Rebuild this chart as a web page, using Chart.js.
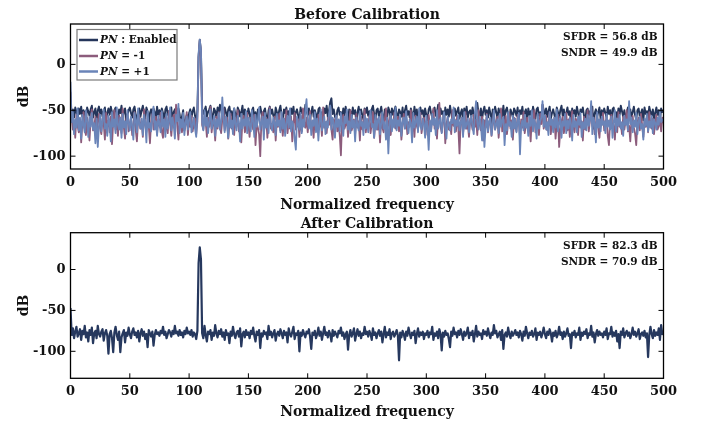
<!DOCTYPE html>
<html>
<head>
<meta charset="utf-8">
<script src="https://cdn.jsdelivr.net/npm/chart.js@4.4.1/dist/chart.umd.min.js"></script>
<style>
  html, body { margin: 0; padding: 0; background: #ffffff; }
  #wrap { position: relative; width: 706px; height: 423px; overflow: hidden; }
  canvas { position: absolute; left: 0; }
  #c1 { top: 0; }
  #c2 { top: 215px; }
</style>
</head>
<body>
<div id="wrap">
  <canvas id="c1" width="706" height="215" style="width:706px;height:215px"></canvas>
  <canvas id="c2" width="706" height="208" style="width:706px;height:208px"></canvas>
</div>
<script>
// ---------------- DATA ----------------
// frequency bins (normalized frequency 0..500)
const freqBins = Array.from({ length: 501 }, (_, i) => i);

const xTickValues = [0, 50, 100, 150, 200, 250, 300, 350, 400, 450, 500];
const yTickValues = [-100, -50, 0];

const seriesNames = ['PN : Enabled', 'PN = -1', 'PN = +1'];

// Before calibration, PN enabled (dB)
const beforeEnabled = [
  -42,-55,-49,-58,-47,-52,-60,-48,-54,-46,-57,-50,-53,-61,-47,-51,-56,-49,-45,-58,-52,-48,-63,-50,-46,
  -54,-49,-57,-51,-47,-60,-53,-48,-55,-46,-52,-59,-50,-47,-56,-62,-49,-53,-45,-58,-51,-48,-64,-55,-50,
  -47,-53,-58,-49,-46,-55,-61,-52,-48,-57,-50,-45,-54,-59,-47,-51,-66,-53,-49,-56,-48,-52,-60,-46,-55,
  -50,-57,-48,-53,-62,-49,-46,-55,-51,-58,-47,-64,-52,-49,-56,-60,-48,-54,-67,-57,-50,-72,-61,-55,-68,
  -53,-49,-58,-51,-47,-56,-62,-50,8,27,14,-48,-54,-50,-46,-57,-52,-49,-45,-55,-60,-48,-51,-58,-47,
  -53,-44,-50,-56,-61,-47,-52,-58,-49,-46,-55,-51,-63,-48,-54,-59,-47,-50,-57,-52,-45,-60,-49,-53,-56,
  -48,-54,-61,-50,-47,-58,-52,-65,-49,-55,-46,-53,-59,-51,-48,-57,-62,-50,-46,-54,-49,-56,-60,-47,-52,
  -58,-50,-45,-55,-63,-49,-53,-47,-57,-51,-60,-48,-54,-46,-59,-52,-49,-56,-61,-47,-53,-50,-58,-44,-51,
  -55,-48,-60,-52,-46,-57,-50,-54,-63,-49,-47,-56,-52,-59,-48,-53,-45,-58,-50,-41,-37,-54,-49,-57,-61,
  -50,-47,-55,-52,-60,-48,-56,-46,-53,-62,-49,-51,-58,-47,-54,-50,-64,-52,-46,-57,-49,-55,-60,-48,-53,
  -47,-56,-51,-59,-49,-45,-54,-61,-50,-48,-57,-52,-46,-55,-63,-49,-53,-58,-47,-51,-60,-48,-55,-50,-46,
  -54,-59,-49,-52,-57,-47,-62,-50,-45,-55,-51,-58,-48,-53,-60,-46,-56,-49,-65,-52,-47,-54,-50,-58,-48,
  -55,-61,-49,-46,-53,-58,-50,-47,-56,-52,-44,-59,-48,-54,-51,-62,-47,-55,-49,-57,-45,-53,-60,-50,-48,
  -56,-51,-47,-59,-53,-49,-62,-48,-55,-46,-58,-52,-50,-57,-47,-54,-61,-49,-42,-53,-56,-48,-60,-51,-46,
  -55,-50,-58,-47,-53,-64,-49,-56,-46,-52,-59,-48,-54,-51,-57,-45,-60,-50,-47,-55,-62,-49,-53,-58,-48,
  -51,-56,-47,-60,-50,-54,-46,-58,-52,-49,-63,-48,-55,-51,-57,-46,-53,-59,-49,-47,-56,-52,-61,-44,-50,
  -54,-48,-57,-51,-46,-59,-53,-49,-55,-62,-47,-52,-58,-50,-45,-56,-49,-60,-53,-47,-55,-51,-64,-48,-54,
  -50,-57,-46,-53,-59,-49,-52,-47,-56,-61,-50,-48,-55,-51,-58,-46,-70,-53,-49,-57,-52,-47,-60,-50,-55,
  -48,-53,-58,-46,-54,-50,-62,-49,-47,-56,-52,-59,-48,-55,-45,-51,-57,-50,-63,-53,-47,-54,-49,-58,-52,
  -46,-55,-60,-50,-48,-57,-53,-49,-61,-47,-54,-51,-58,-46,-52,-56,-49,-59,-53,-47,-55,-50,-62,-48,-52,
  -50
];

// Before calibration, PN = -1 (dB)
const beforeMinus = [
  -30,-58,-71,-62,-80,-55,-67,-74,-60,-85,-64,-52,-70,-77,-58,-66,-83,-61,-49,-72,-68,-57,-79,-63,-54,
  -70,-76,-59,-65,-82,-53,-68,-61,-74,-57,-87,-63,-50,-71,-66,-78,-56,-62,-75,-48,-69,-81,-60,-55,-73,
  -64,-58,-77,-67,-52,-72,-84,-61,-56,-70,-63,-79,-49,-66,-74,-59,-68,-86,-62,-54,-71,-65,-57,-76,-60,
  -67,-53,-73,-80,-62,-58,-69,-75,-51,-64,-78,-60,-55,-71,-44,-66,-82,-59,-63,-74,-57,-70,-65,-52,-77,
  -61,-68,-56,-73,-64,-59,-76,-62,8,26,13,-66,-71,-55,-63,-79,-58,-68,-46,-74,-61,-65,-83,-57,-70,
  -52,-67,-75,-60,-48,-72,-64,-58,-81,-66,-54,-70,-62,-77,-59,-68,-50,-73,-65,-85,-61,-56,-74,-69,-53,
  -66,-79,-58,-63,-71,-55,-88,-64,-69,-76,-100,-60,-52,-73,-67,-58,-80,-62,-47,-70,-65,-74,-57,-83,-61,
  -68,-54,-72,-63,-78,-59,-66,-50,-75,-62,-70,-57,-84,-64,-53,-71,-67,-60,-79,-56,-73,-48,-65,-69,-58,
  -74,-62,-51,-70,-66,-80,-57,-64,-72,-55,-68,-61,-78,-47,-69,-63,-75,-58,-66,-52,-71,-82,-60,-67,-56,
  -73,-64,-77,-99,-61,-55,-70,-66,-58,-79,-63,-50,-72,-68,-60,-76,-54,-69,-62,-83,-57,-71,-65,-49,-74,
  -61,-68,-56,-75,-64,-52,-80,-66,-59,-71,-63,-85,-55,-69,-74,-60,-48,-72,-65,-58,-77,-62,-67,-53,-70,
  -64,-57,-73,-61,-82,-66,-54,-70,-59,-76,-63,-68,-50,-74,-62,-79,-56,-67,-71,-60,-53,-75,-65,-58,-69,
  -62,-77,-55,-66,-72,-59,-48,-70,-64,-81,-57,-42,-68,-74,-61,-53,-86,-65,-58,-71,-63,-76,-50,-67,-60,
  -73,-56,-69,-97,-62,-58,-75,-64,-52,-70,-66,-79,-59,-63,-71,-55,-68,-60,-77,-50,-65,-72,-57,-83,-61,
  -69,-54,-74,-63,-59,-78,-66,-51,-71,-62,-57,-80,-65,-48,-73,-60,-68,-56,-76,-64,-53,-70,-61,-82,-58,
  -67,-73,-55,-63,-79,-60,-69,-52,-75,-64,-58,-71,-66,-84,-57,-62,-50,-74,-68,-59,-77,-54,-65,-44,-70,
  -63,-56,-72,-67,-52,-76,-61,-69,-58,-81,-64,-55,-90,-70,-62,-57,-75,-66,-53,-72,-60,-79,-65,-51,-68,
  -74,-59,-63,-77,-56,-69,-62,-83,-57,-71,-65,-50,-73,-61,-44,-67,-58,-76,-64,-54,-70,-80,-60,-66,-53,
  -72,-63,-58,-78,-88,-61,-55,-70,-66,-82,-59,-74,-52,-68,-64,-76,-57,-71,-62,-50,-73,-67,-84,-60,-56,
  -69,-75,-88,-63,-58,-72,-54,-66,-79,-61,-68,-57,-74,-52,-65,-70,-59,-76,-63,-55,-71,-67,-60,-73,-58,
  -64
];

// Before calibration, PN = +1 (dB)
const beforePlus = [
  -19,-63,-52,-76,-60,-69,-48,-72,-58,-81,-55,-66,-74,-50,-62,-79,-57,-68,-53,-71,-64,-86,-59,-90,-67,
  -55,-73,-61,-49,-70,-65,-78,-56,-63,-84,-52,-68,-60,-75,-47,-66,-71,-58,-80,-54,-69,-62,-76,-50,-64,
  -72,-57,-67,-82,-53,-61,-74,-48,-66,-70,-59,-77,-55,-63,-85,-51,-69,-64,-73,-57,-46,-71,-62,-78,-56,
  -65,-74,-51,-68,-60,-79,-54,-70,-63,-47,-72,-58,-66,-81,-55,-62,-43,-75,-60,-69,-53,-77,-64,-57,-71,
  -60,-52,-74,-66,-58,-70,-79,-55,12,27,15,-63,-72,-50,-67,-58,-75,-61,-49,-70,-64,-56,-78,-60,-68,
  -53,-71,-62,-36,-59,-74,-57,-66,-80,-52,-69,-61,-76,-48,-65,-72,-56,-63,-84,-54,-70,-60,-67,-51,-75,
  -58,-66,-73,-50,-62,-79,-55,-68,-61,-47,-71,-64,-57,-82,-53,-69,-60,-75,-49,-66,-72,-58,-63,-77,-54,
  -67,-61,-74,-52,-70,-59,-78,-64,-56,-69,-48,-73,-62,-66,-81,-93,-57,-65,-71,-53,-75,-60,-68,-50,-38,
  -64,-70,-55,-77,-61,-67,-52,-74,-59,-83,-63,-49,-72,-66,-57,-76,-62,-69,-54,-45,-71,-58,-65,-80,-56,
  -68,-60,-73,-53,-66,-78,-57,-64,-49,-71,-62,-75,-55,-69,-61,-84,-58,-66,-72,-51,-67,-63,-77,-56,-70,
  -59,-74,-62,-50,-68,-65,-80,-55,-71,-61,-57,-76,-64,-52,-70,-63,-82,-58,-97,-66,-54,-73,-60,-69,-47,
  -72,-61,-67,-55,-78,-63,-58,-70,-51,-66,-75,-60,-64,-85,-53,-69,-62,-57,-74,-48,-67,-71,-59,-65,-80,
  -56,-68,-93,-61,-73,-54,-66,-59,-77,-50,-70,-63,-58,-75,-62,-52,-69,-81,-57,-66,-72,-60,-64,-47,-74,
  -61,-67,-55,-72,-63,-58,-79,-52,-70,-65,-59,-74,-62,-56,-68,-76,-53,-40,-64,-71,-57,-66,-83,-60,-90,
  -69,-55,-73,-62,-58,-77,-64,-50,-71,-66,-60,-75,-54,-68,-61,-57,-88,-65,-72,-52,-67,-63,-79,-56,-70,
  -59,-74,-62,-53,-98,-66,-61,-72,-55,-69,-64,-78,-57,-67,-50,-73,-60,-65,-81,-54,-70,-62,-58,-40,-68,
  -56,-71,-63,-77,-52,-66,-60,-74,-58,-69,-49,-73,-64,-57,-80,-62,-67,-54,-75,-61,-70,-58,-65,-83,-55,
  -68,-62,-74,-57,-66,-53,-79,-63,-70,-59,-72,-55,-67,-61,-40,-76,-58,-64,-85,-52,-69,-60,-73,-57,-66,
  -62,-75,-54,-68,-61,-71,-57,-80,-64,-50,-73,-59,-67,-55,-70,-63,-78,-56,-66,-60,-72,-40,-65,-58,-74,
  -61,-68,-53,-76,-63,-57,-70,-65,-82,-59,-67,-54,-73,-62,-69,-56,-75,-60,-64,-71,-58,-66,-52,-63,-60,
  -62
];

// After calibration (dB)
const afterCal = [
  -47,-80,-72,-84,-76,-70,-82,-78,-73,-86,-75,-79,-69,-83,-77,-88,-74,-80,-71,-90,-78,-75,-84,-69,-79,
  -82,-76,-73,-87,-78,-74,-81,-103,-79,-75,-84,-101,-77,-70,-80,-86,-76,-101,-83,-78,-74,-89,-77,-81,-71,
  -79,-84,-76,-72,-80,-77,-83,-75,-88,-78,-73,-81,-76,-85,-79,-95,-74,-78,-82,-76,-93,-80,-74,-79,-77,
  -81,-75,-78,-70,-80,-76,-84,-79,-74,-77,-82,-75,-79,-69,-78,-76,-81,-74,-80,-77,-83,-75,-79,-71,-78,
  -76,-80,-74,-82,-77,-79,-85,-75,8,27,12,-78,-84,-69,-80,-88,-76,-79,-74,-86,-77,-81,-68,-78,-83,
  -75,-79,-73,-82,-77,-86,-74,-80,-78,-90,-76,-81,-70,-79,-84,-77,-75,-82,-72,-94,-79,-76,-83,-74,-80,
  -77,-84,-75,-79,-71,-81,-88,-76,-80,-74,-96,-78,-82,-75,-79,-77,-85,-69,-80,-76,-83,-78,-74,-87,-79,
  -76,-81,-73,-78,-84,-75,-80,-77,-89,-72,-79,-82,-76,-70,-85,-78,-80,-75,-100,-77,-81,-74,-79,-83,-76,
  -78,-73,-82,-97,-77,-80,-75,-84,-79,-71,-81,-76,-86,-78,-70,-80,-77,-83,-75,-79,-88,-74,-81,-76,-79,
  -83,-75,-78,-71,-81,-77,-85,-79,-76,-98,-80,-74,-82,-78,-72,-87,-79,-73,-81,-76,-84,-78,-80,-70,-79,
  -76,-82,-75,-79,-86,-72,-80,-77,-84,-78,-74,-81,-76,-89,-79,-70,-83,-77,-80,-73,-85,-78,-76,-82,-79,
  -74,-80,-111,-77,-83,-75,-79,-86,-76,-81,-71,-78,-84,-77,-80,-75,-90,-79,-72,-82,-77,-80,-76,-85,-78,
  -80,-75,-83,-77,-79,-70,-86,-78,-81,-76,-84,-73,-79,-99,-77,-82,-75,-80,-78,-85,-95,-76,-81,-71,-79,
  -77,-83,-75,-80,-73,-79,-86,-76,-81,-78,-71,-84,-77,-80,-75,-88,-79,-69,-82,-76,-80,-78,-85,-74,-79,
  -76,-81,-72,-79,-84,-77,-80,-68,-78,-75,-83,-79,-76,-86,-74,-97,-80,-77,-82,-71,-79,-84,-76,-81,-78,
  -74,-80,-77,-83,-75,-79,-87,-76,-81,-70,-78,-84,-77,-80,-75,-82,-79,-72,-86,-77,-80,-76,-83,-78,-71,
  -79,-84,-76,-80,-73,-78,-88,-77,-81,-75,-83,-79,-70,-80,-77,-85,-76,-82,-78,-72,-81,-79,-96,-77,-80,
  -75,-83,-78,-80,-71,-86,-77,-81,-76,-79,-73,-84,-78,-80,-69,-82,-77,-89,-79,-74,-81,-76,-80,-78,-83,
  -76,-80,-72,-85,-78,-79,-70,-82,-77,-81,-75,-88,-79,-96,-76,-80,-72,-83,-78,-75,-81,-77,-84,-79,-71,
  -80,-76,-82,-78,-73,-85,-79,-77,-81,-75,-83,-78,-107,-80,-70,-79,-84,-74,-81,-77,-80,-72,-86,-68,-79,
  -77
];

const beforeMetrics = ['SFDR = 56.8 dB', 'SNDR = 49.9 dB'];
const afterMetrics  = ['SFDR = 82.3 dB', 'SNDR = 70.9 dB'];

// ---------------- STYLE ----------------
const COL_ENABLED = 'rgb(36,53,90)';
const COL_MINUS   = 'rgb(140,92,124)';
const COL_PLUS    = 'rgb(106,132,184)';
const COL_AFTER   = 'rgb(38,56,94)';
const FONT = 'DejaVu Serif';
const TEXT = '#111111';

function toPoints(arr) { return arr.map((v, i) => ({ x: freqBins[i], y: v })); }

function makeScales(ymin, ymax) {
  return {
    x: {
      type: 'linear', min: 0, max: 500,
      grid: { display: false, drawTicks: false },
      border: { display: false },
      ticks: { font: { family: FONT, size: 13, weight: 'bold' }, color: TEXT, padding: 6, maxRotation: 0, autoSkip: false },
      afterBuildTicks: s => { s.ticks = xTickValues.map(v => ({ value: v })); },
      afterFit: s => { s.height = 40; }
    },
    y: {
      type: 'linear', min: ymin, max: ymax,
      grid: { display: false, drawTicks: false },
      border: { display: false },
      ticks: { font: { family: FONT, size: 13, weight: 'bold' }, color: TEXT, padding: 5 },
      afterBuildTicks: s => { s.ticks = yTickValues.map(v => ({ value: v })); },
      afterFit: s => { s.width = 40; }
    }
  };
}

function decorPlugin(cfg) {
  return {
    id: 'decor',
    afterDraw(chart) {
      const ctx = chart.ctx;
      const a = chart.chartArea;
      const xs = chart.scales.x, ys = chart.scales.y;
      ctx.save();
      // frame
      ctx.strokeStyle = '#000';
      ctx.lineWidth = 1.3;
      ctx.strokeRect(a.left, a.top, a.right - a.left, a.bottom - a.top);
      // inward ticks
      ctx.lineWidth = 1;
      ctx.beginPath();
      xTickValues.forEach(v => {
        const px = xs.getPixelForValue(v);
        ctx.moveTo(px, a.bottom); ctx.lineTo(px, a.bottom - 5);
        ctx.moveTo(px, a.top); ctx.lineTo(px, a.top + 5);
      });
      yTickValues.forEach(v => {
        const py = ys.getPixelForValue(v);
        ctx.moveTo(a.left, py); ctx.lineTo(a.left + 5, py);
        ctx.moveTo(a.right, py); ctx.lineTo(a.right - 5, py);
      });
      ctx.stroke();

      ctx.fillStyle = TEXT;
      // title
      ctx.font = `bold 14px "${FONT}"`;
      ctx.textAlign = 'center';
      ctx.textBaseline = 'alphabetic';
      ctx.fillText(cfg.title, (a.left + a.right) / 2, cfg.titleY);
      // x axis title
      ctx.fillText('Normalized frequency', (a.left + a.right) / 2, cfg.xTitleY);
      // y axis title
      ctx.save();
      ctx.translate(28, (a.top + a.bottom) / 2);
      ctx.rotate(-Math.PI / 2);
      ctx.fillText('dB', 0, 0);
      ctx.restore();
      // metrics
      ctx.font = `bold 10.5px "${FONT}"`;
      ctx.textAlign = 'right';
      ctx.fillText(cfg.metrics[0], a.right - 6, a.top + 16);
      ctx.fillText(cfg.metrics[1], a.right - 6, a.top + 32);

      // legend
      if (cfg.legend) {
        const bx = 77, by = 29.5, bw = 100, bh = 50.5;
        ctx.fillStyle = '#fff';
        ctx.fillRect(bx, by, bw, bh);
        ctx.strokeStyle = '#7a7a7a';
        ctx.lineWidth = 1.2;
        ctx.strokeRect(bx, by, bw, bh);
        const rows = [
          { y: by + 10.5, color: COL_ENABLED, rest: ' : Enabled' },
          { y: by + 26.5, color: COL_MINUS, rest: ' = -1' },
          { y: by + 42, color: COL_PLUS, rest: ' = +1' }
        ];
        rows.forEach(r => {
          ctx.strokeStyle = r.color;
          ctx.lineWidth = 2.5;
          ctx.beginPath();
          ctx.moveTo(bx + 2, r.y); ctx.lineTo(bx + 21, r.y);
          ctx.stroke();
          ctx.fillStyle = TEXT;
          ctx.textAlign = 'left';
          ctx.textBaseline = 'middle';
          ctx.font = `italic bold 10.5px "${FONT}"`;
          ctx.fillText('PN', bx + 23, r.y + 0.5);
          const w = ctx.measureText('PN').width;
          ctx.font = `bold 10.5px "${FONT}"`;
          ctx.fillText(r.rest, bx + 23 + w, r.y + 0.5);
        });
      }
      ctx.restore();
    }
  };
}

const lineDefaults = { pointRadius: 0, tension: 0, borderJoinStyle: 'round', fill: false };

// ---------------- TOP CHART ----------------
new Chart(document.getElementById('c1'), {
  type: 'line',
  data: {
    datasets: [
      { label: seriesNames[0], data: toPoints(beforeEnabled), borderColor: COL_ENABLED, borderWidth: 1.9, order: 3, ...lineDefaults },
      { label: seriesNames[1], data: toPoints(beforeMinus), borderColor: COL_MINUS, borderWidth: 1.8, order: 2, ...lineDefaults },
      { label: seriesNames[2], data: toPoints(beforePlus), borderColor: COL_PLUS, borderWidth: 1.8, order: 1, ...lineDefaults }
    ]
  },
  options: {
    responsive: false, animation: false, devicePixelRatio: 1,
    layout: { padding: { left: 30.5, right: 42.5, top: 24, bottom: 6 } },
    plugins: { legend: { display: false }, title: { display: false }, tooltip: { enabled: false } },
    scales: makeScales(-114, 44)
  },
  plugins: [decorPlugin({ title: 'Before Calibration', titleY: 18.5, xTitleY: 209, metrics: beforeMetrics, legend: true })]
});

// ---------------- BOTTOM CHART ----------------
new Chart(document.getElementById('c2'), {
  type: 'line',
  data: {
    datasets: [
      { label: 'After Calibration', data: toPoints(afterCal), borderColor: COL_AFTER, borderWidth: 2.2, ...lineDefaults }
    ]
  },
  options: {
    responsive: false, animation: false, devicePixelRatio: 1,
    layout: { padding: { left: 30.5, right: 42.5, top: 17.7, bottom: 4.7 } },
    plugins: { legend: { display: false }, title: { display: false }, tooltip: { enabled: false } },
    scales: makeScales(-133, 45)
  },
  plugins: [decorPlugin({ title: 'After Calibration', titleY: 13.3, xTitleY: 201, metrics: afterMetrics, legend: false })]
});
</script>
</body>
</html>
